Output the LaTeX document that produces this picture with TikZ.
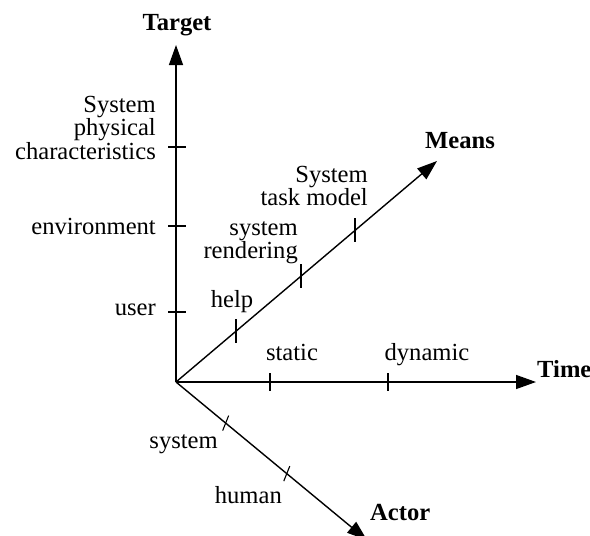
\documentclass[tikz,border=0pt]{standalone}
\usepackage{fontspec}
\setmainfont{Liberation Serif}
\usetikzlibrary{arrows.meta,calc}
\begin{document}
\begin{tikzpicture}[x=1pt,y=-1pt,
  axis/.style={line width=1.4pt,-{Triangle[length=20pt,width=14pt]}},
  tickmark/.style={line width=1.1pt},
  lab/.style={font=\fontsize{24.6}{21}\selectfont,inner sep=0pt},
  ttl/.style={font=\fontsize{24.6}{21}\selectfont\bfseries,inner sep=0pt}]
\useasboundingbox (0,0) rectangle (590,536);
\coordinate (O) at (176,382);
\coordinate (T) at (176,45);
\coordinate (Ti) at (536,382);
\coordinate (M) at (437,161);
\coordinate (A) at (367,540);
% axes
\draw[axis] (O) -- (T);
\draw[axis] (O) -- (Ti);
\draw[axis] (O) -- (M);
\draw[axis] (O) -- (A);
% target ticks
\foreach \yy/\nm in {147/t1,226/t2,312/t3}{
  \coordinate (\nm) at (176,\yy);
  \draw[tickmark] ($(\nm)+(-8,0)$) -- ($(\nm)+(10,0)$);
}
% time ticks
\foreach \xx/\nm in {270/s1,388/s2}{
  \coordinate (\nm) at (\xx,382);
  \draw[tickmark] ($(\nm)+(0,-9)$) -- ($(\nm)+(0,9)$);
}
% means ticks
\path (O) -- (M) coordinate[pos=0.23] (m1) coordinate[pos=0.479] (m2) coordinate[pos=0.686] (m3);
\foreach \nm in {m1,m2,m3}{
  \draw[tickmark] ($(\nm)+(0,-12)$) -- ($(\nm)+(0,12)$);
}
% actor ticks
\path (O) -- (A) coordinate[pos=0.26] (a1) coordinate[pos=0.58] (a2);
\foreach \nm in {a1,a2}{
  \draw[tickmark] ($(\nm)+(3,-7.5)$) -- ($(\nm)+(-3,7.5)$);
}
% axis titles
\node[ttl,anchor=base] (tT) at (177,30) {Target};
\node[ttl,anchor=base west] (tM) at (425,148) {Means};
\node[ttl,anchor=base west] (tTi) at (537,377) {Time};
\node[ttl,anchor=base west] (tA) at (370,520) {Actor};
% labels
\node[lab,anchor=north east,align=right] (l1) at (156,96) {System\\physical\\characteristics};
\node[lab,anchor=base east] (l2) at (156,234) {environment};
\node[lab,anchor=base east] (l3) at (156,315) {user};
\node[lab,anchor=base] (l4) at (232,307) {help};
\node[lab,anchor=north east,align=right] (l5) at (298,221) {system\\rendering};
\node[lab,anchor=north east,align=right] (l6) at (368,166) {System\\task model};
\node[lab,anchor=base] (l7) at (292,360) {static};
\node[lab,anchor=base] (l8) at (427,360) {dynamic};
\node[lab,anchor=base east] (l9) at (218,448) {system};
\node[lab,anchor=base east] (l10) at (282,503) {human};
\end{tikzpicture}
\end{document}
